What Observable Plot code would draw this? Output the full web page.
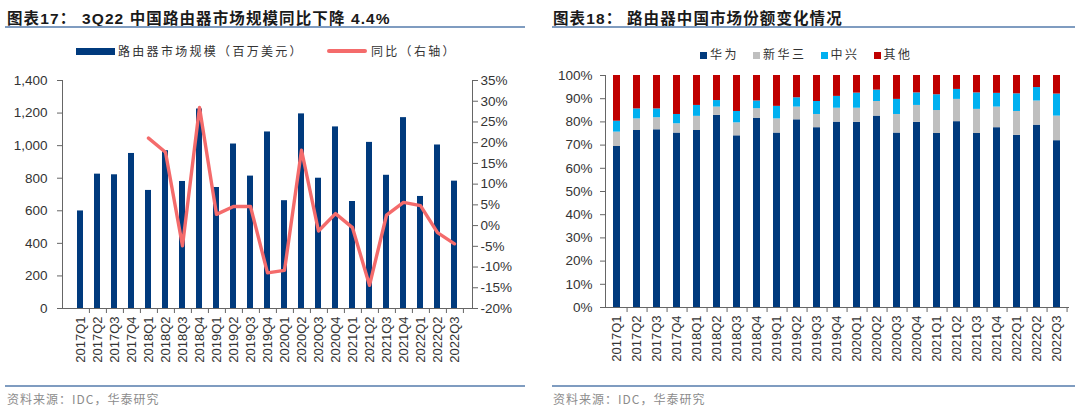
<!DOCTYPE html>
<html><head><meta charset="utf-8">
<script src="https://cdn.jsdelivr.net/npm/d3@7"></script>
<script src="https://cdn.jsdelivr.net/npm/@observablehq/plot@0.6"></script>
<style>
body{margin:0;width:1080px;height:412px;position:relative;background:#fff;font-family:"Liberation Sans","Noto Sans CJK SC",sans-serif;overflow:hidden}
.abs{position:absolute}
.title{font-weight:bold;font-size:15.5px;color:#1a1a1a;top:6px;white-space:nowrap;letter-spacing:1.1px}
.hr{height:2px;background:#7f9cc0}
.leg{font-family:"Noto Sans CJK SC";font-size:12px;color:#333;letter-spacing:2.3px;white-space:nowrap}
.src{font-family:"Noto Sans CJK SC";font-size:12px;color:#8c8c8c;top:390px;letter-spacing:1px;white-space:nowrap}
svg text{fill:#333}
</style></head><body>
<div class="abs title" style="left:7px">图表17：</div>
<div class="abs title" style="left:82px">3Q22 中国路由器市场规模同比下降 4.4%</div>
<div class="abs hr" style="left:5px;top:26px;width:520px"></div>
<div class="abs title" style="left:553px">图表18：</div>
<div class="abs title" style="left:627px">路由器中国市场份额变化情况</div>
<div class="abs hr" style="left:552px;top:26px;width:523px"></div>

<div class="abs" style="left:76px;top:48px;width:39px;height:7px;background:#003a7d"></div>
<div class="abs leg" style="left:118px;top:42px">路由器市场规模（百万美元）</div>
<div class="abs" style="left:327px;top:49px;width:40px;height:4px;background:#f46b6b;border-radius:2px"></div>
<div class="abs leg" style="left:371px;top:42px">同比（右轴）</div>

<div class="abs leg" id="leg2" style="left:700px;top:45px;letter-spacing:2.5px"></div>

<div class="abs" id="c1" style="left:0;top:62px"></div>
<div class="abs" id="c2" style="left:540px;top:62px"></div>

<div class="abs hr" style="left:5px;top:385px;width:520px"></div>
<div class="abs hr" style="left:552px;top:385px;width:523px"></div>
<div class="abs src" style="left:7px">资料来源：IDC，华泰研究</div>
<div class="abs src" style="left:553px">资料来源：IDC，华泰研究</div>
<script>
const quarters = ["2017Q1","2017Q2","2017Q3","2017Q4","2018Q1","2018Q2","2018Q3","2018Q4","2019Q1","2019Q2","2019Q3","2019Q4","2020Q1","2020Q2","2020Q3","2020Q4","2021Q1","2021Q2","2021Q3","2021Q4","2022Q1","2022Q2","2022Q3"];
const marketSize = [599,825,821,952,725,969,780,1225,743,1010,813,1084,662,1195,800,1115,657,1020,818,1172,688,1004,782];
const yoyQuarters = ["2018Q1","2018Q2","2018Q3","2018Q4","2019Q1","2019Q2","2019Q3","2019Q4","2020Q1","2020Q2","2020Q3","2020Q4","2021Q1","2021Q2","2021Q3","2021Q4","2022Q1","2022Q2","2022Q3"];
const yoy = [21.1,17.7,-4.9,28.5,2.7,4.6,4.6,-11.4,-10.8,18.2,-1.3,2.9,-0.5,-14.4,2.5,5.6,4.8,-1.7,-4.4];
const leftTicks = [0,200,400,600,800,1000,1200,1400];
const pctTicks = [-20,-15,-10,-5,0,5,10,15,20,25,30,35];

const companies = ["华为","新华三","中兴","其他"];
const companyColors = ["#003a7d","#bfbfbf","#00b0f0","#c00000"];
const huawei = [69.4,76.3,76.6,75.2,76.3,82.8,74.0,81.6,75.2,80.9,77.5,79.9,79.8,82.5,75.2,79.8,75.0,80.1,75.0,77.5,74.2,78.6,71.9];
const h3c = [6.2,5.0,5.2,4.0,6.1,3.6,5.6,4.1,6.1,5.5,5.7,6.0,6.1,6.3,8.0,7.3,9.9,9.6,10.4,8.9,10.3,10.4,10.6];
const zte = [4.7,4.3,3.8,4.0,4.7,2.8,4.9,3.3,5.4,4.0,5.6,5.1,6.5,4.9,6.5,5.4,6.8,4.3,7.1,5.9,7.6,5.8,9.5];
const other = [19.7,14.4,14.4,16.8,12.9,10.8,15.5,11.0,13.3,9.6,11.2,9.0,7.6,6.3,10.3,7.5,8.3,6.0,7.5,7.7,7.9,5.2,8.0];
const shareTicks = [0,10,20,30,40,50,60,70,80,90,100];

const axisColor = "#666";
const font = "Liberation Sans, Arial, sans-serif";

// ---- chart 1
{
  const W = 530, mL = 62, mR = 58;
  const step = (W - mL - mR) / quarters.length;
  const toLeft = p => (p + 20) / 55 * 1400;
  const bars = quarters.map((q, i) => ({q, v: marketSize[i]}));
  const line = yoyQuarters.map((q, i) => ({q, v: yoy[i]}));
  const p = Plot.plot({
    width: W, height: 316, marginLeft: mL, marginRight: mR, marginTop: 18, marginBottom: 70,
    style: {fontFamily: font, fontSize: "13.5px", color: "#333", background: "transparent"},
    x: {domain: quarters, paddingInner: 0.66, paddingOuter: 0.33, label: null},
    y: {domain: [0, 1400], label: null},
    marks: [
      Plot.barY(bars, {x: "q", y: "v", fill: "#003a7d"}),
      Plot.lineY(line, {x: "q", y: d => toLeft(d.v), stroke: "#f46b6b", strokeWidth: 3.4, curve: "linear"}),
      Plot.axisY(leftTicks, {anchor: "left", tickSize: 5, tickPadding: 10, stroke: axisColor, tickFormat: d3.format(",")}),
      Plot.axisY(pctTicks.map(toLeft), {anchor: "right", tickSize: 5, tickPadding: 3, stroke: axisColor, tickFormat: v => Math.round(v / 1400 * 55 - 20) + "%"}),
      Plot.axisX({anchor: "bottom", tickSize: 5, dx: step / 2, tickFormat: () => "", stroke: axisColor}),
      Plot.axisX({anchor: "bottom", tickSize: 0, tickRotate: -90, tickPadding: 8, fontSize: 13}),
      Plot.frame({anchor: "left", stroke: axisColor}),
      Plot.frame({anchor: "right", stroke: axisColor}),
      Plot.frame({anchor: "bottom", stroke: axisColor})
    ]
  });
  document.getElementById("c1").appendChild(p);
}

// ---- chart 2
{
  const W = 535, mL = 65, mR = 7;
  const step = (W - mL - mR) / quarters.length;
  const series = [huawei, h3c, zte, other];
  const rows = [];
  companies.forEach((c, k) => quarters.forEach((q, i) => rows.push({q, c, v: series[k][i]})));
  const p = Plot.plot({
    width: W, height: 315, marginLeft: mL, marginRight: mR, marginTop: 13, marginBottom: 70,
    style: {fontFamily: font, fontSize: "13.5px", color: "#333", background: "transparent"},
    x: {domain: quarters, paddingInner: 0.65, paddingOuter: 0.325, label: null},
    y: {domain: [0, 100], label: null},
    color: {domain: companies, range: companyColors},
    marks: [
      Plot.barY(rows, {x: "q", y: "v", fill: "c", order: companies}),
      Plot.axisY(shareTicks, {anchor: "left", tickSize: 5, tickPadding: 8, stroke: axisColor, tickFormat: d => d + "%"}),
      Plot.axisX({anchor: "bottom", tickSize: 5, dx: step / 2, tickFormat: () => "", stroke: axisColor}),
      Plot.axisX({anchor: "bottom", tickSize: 0, tickRotate: -90, tickPadding: 8, fontSize: 13}),
      Plot.frame({anchor: "left", stroke: axisColor}),
      Plot.frame({anchor: "bottom", stroke: axisColor})
    ]
  });
  document.getElementById("c2").appendChild(p);
  const leg = document.getElementById("leg2");
  leg.innerHTML = companies.map((c, k) =>
    `<span style="display:inline-block;width:7px;height:7px;background:${companyColors[k]};margin-right:3px;vertical-align:0px"></span>${c}`
  ).join('<span style="display:inline-block;width:14px"></span>');
}
</script>
</body></html>
